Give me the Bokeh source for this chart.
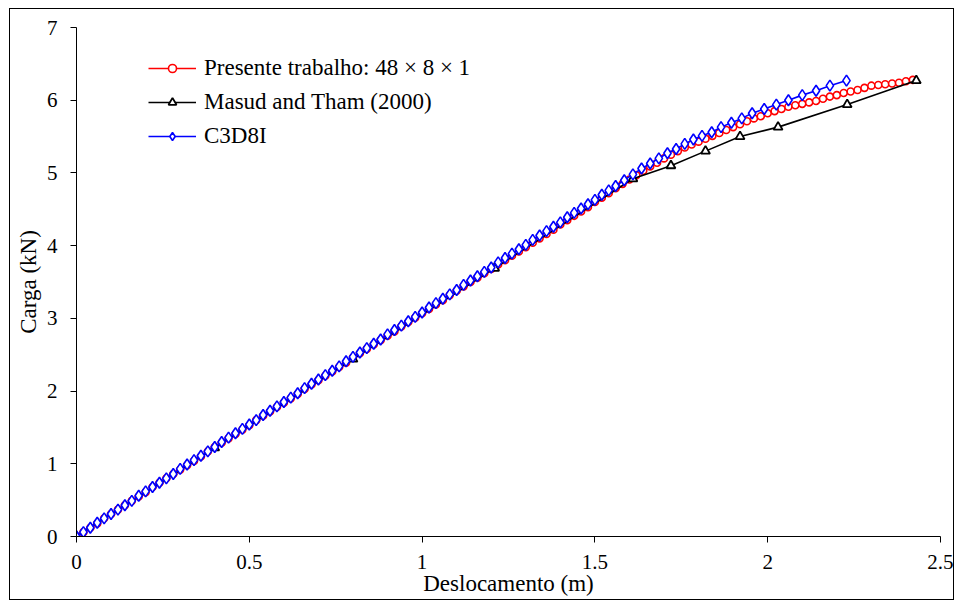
from bokeh.plotting import figure
from bokeh.models import Legend, LegendItem, FixedTicker
from bokeh.embed import file_html
from bokeh.resources import INLINE

# ---- data ----
red_x = [0.00, 0.02, 0.04, 0.06, 0.08, 0.10, 0.12, 0.14, 0.16, 0.18,
         0.20, 0.22, 0.24, 0.26, 0.28, 0.30, 0.32, 0.34, 0.36, 0.38,
         0.40, 0.42, 0.44, 0.46, 0.48, 0.50, 0.52, 0.54, 0.56, 0.58,
         0.60, 0.62, 0.64, 0.66, 0.68, 0.70, 0.72, 0.74, 0.76, 0.78,
         0.80, 0.82, 0.84, 0.86, 0.88, 0.90, 0.92, 0.94, 0.96, 0.98,
         1.00, 1.02, 1.04, 1.06, 1.08, 1.10, 1.12, 1.14, 1.16, 1.18,
         1.20, 1.22, 1.24, 1.26, 1.28, 1.30, 1.32, 1.34, 1.36, 1.38,
         1.40, 1.42, 1.44, 1.46, 1.48, 1.50, 1.52, 1.54, 1.56, 1.58,
         1.60, 1.62, 1.64, 1.66, 1.68, 1.70, 1.72, 1.74, 1.76, 1.78,
         1.80, 1.82, 1.84, 1.86, 1.88, 1.90, 1.92, 1.94, 1.96, 1.98,
         2.00, 2.02, 2.04, 2.06, 2.08, 2.10, 2.12, 2.14, 2.16, 2.18,
         2.20, 2.22, 2.24, 2.26, 2.28, 2.30, 2.32, 2.34, 2.36, 2.38,
         2.40, 2.42]
red_y = [0.00, 0.06, 0.12, 0.18, 0.25, 0.31, 0.37, 0.43, 0.49, 0.55,
         0.61, 0.68, 0.74, 0.80, 0.86, 0.92, 0.98, 1.04, 1.10, 1.17,
         1.23, 1.29, 1.35, 1.41, 1.47, 1.53, 1.60, 1.66, 1.72, 1.78,
         1.84, 1.90, 1.96, 2.03, 2.09, 2.15, 2.21, 2.27, 2.33, 2.39,
         2.46, 2.52, 2.58, 2.64, 2.70, 2.76, 2.82, 2.89, 2.95, 3.01,
         3.07, 3.13, 3.19, 3.25, 3.32, 3.38, 3.44, 3.50, 3.56, 3.62,
         3.68, 3.74, 3.80, 3.86, 3.92, 3.98, 4.04, 4.10, 4.16, 4.22,
         4.29, 4.35, 4.41, 4.47, 4.53, 4.60, 4.66, 4.72, 4.79, 4.85,
         4.91, 4.97, 5.03, 5.09, 5.14, 5.20, 5.25, 5.30, 5.35, 5.39,
         5.43, 5.47, 5.51, 5.55, 5.59, 5.63, 5.67, 5.71, 5.75, 5.78,
         5.82, 5.85, 5.88, 5.91, 5.93, 5.95, 5.97, 5.99, 6.02, 6.05,
         6.07, 6.10, 6.12, 6.14, 6.17, 6.20, 6.21, 6.22, 6.23, 6.24,
         6.26, 6.28]

black_x = [0.00, 0.40, 0.80, 1.21, 1.61, 1.72, 1.82, 1.92, 2.03, 2.23, 2.43]
black_y = [0.00, 1.22, 2.44, 3.69, 4.92, 5.10, 5.30, 5.50, 5.63, 5.94, 6.27]

blue_x = [0.00, 0.02, 0.04, 0.06, 0.08, 0.10, 0.12, 0.14, 0.16, 0.18,
          0.20, 0.22, 0.24, 0.26, 0.28, 0.30, 0.32, 0.34, 0.36, 0.38,
          0.40, 0.42, 0.44, 0.46, 0.48, 0.50, 0.52, 0.54, 0.56, 0.58,
          0.60, 0.62, 0.64, 0.66, 0.68, 0.70, 0.72, 0.74, 0.76, 0.78,
          0.80, 0.82, 0.84, 0.86, 0.88, 0.90, 0.92, 0.94, 0.96, 0.98,
          1.00, 1.02, 1.04, 1.06, 1.08, 1.10, 1.12, 1.14, 1.16, 1.18,
          1.20, 1.22, 1.24, 1.26, 1.28, 1.30, 1.32, 1.34, 1.36, 1.38,
          1.40, 1.42, 1.44, 1.46, 1.48, 1.50, 1.52, 1.54, 1.56, 1.585,
          1.61, 1.635, 1.66, 1.685, 1.71, 1.735, 1.76, 1.785, 1.81, 1.838,
          1.865, 1.895, 1.925, 1.955, 1.99, 2.025, 2.06, 2.10, 2.14, 2.18,
          2.228]
blue_y = [0.00, 0.06, 0.12, 0.19, 0.25, 0.31, 0.37, 0.43, 0.49, 0.56,
          0.62, 0.68, 0.74, 0.80, 0.86, 0.93, 0.99, 1.05, 1.11, 1.17,
          1.23, 1.30, 1.36, 1.42, 1.48, 1.54, 1.60, 1.67, 1.73, 1.79,
          1.85, 1.91, 1.97, 2.04, 2.10, 2.16, 2.22, 2.28, 2.34, 2.41,
          2.47, 2.53, 2.59, 2.65, 2.71, 2.78, 2.84, 2.90, 2.96, 3.02,
          3.08, 3.15, 3.21, 3.27, 3.33, 3.39, 3.46, 3.52, 3.58, 3.64,
          3.70, 3.77, 3.83, 3.89, 3.95, 4.01, 4.08, 4.14, 4.20, 4.26,
          4.32, 4.39, 4.45, 4.51, 4.57, 4.63, 4.70, 4.76, 4.82, 4.90,
          4.98, 5.06, 5.13, 5.20, 5.27, 5.33, 5.40, 5.46, 5.51, 5.56,
          5.63, 5.69, 5.75, 5.82, 5.88, 5.94, 6.00, 6.07, 6.13, 6.20,
          6.27]

x_ticks = [0, 0.5, 1, 1.5, 2, 2.5]
y_ticks = [0, 1, 2, 3, 4, 5, 6, 7]

labels = ["Presente trabalho: 48 \u00d7 8 \u00d7 1", "Masud and Tham (2000)", "C3D8I"]
x_label = "Deslocamento (m)"
y_label = "Carga (kN)"

FONT = "Liberation Serif"

p = figure(width=945, height=592, output_backend="svg", toolbar_location=None,
           x_range=(0, 2.5), y_range=(0, 7),
           min_border_left=66, min_border_right=15, min_border_top=18, min_border_bottom=65)
p.styles = {"border": "1px solid black", "margin-left": "9px", "margin-top": "8px"}
p.outline_line_color = None
p.xgrid.visible = False
p.ygrid.visible = False
p.background_fill_color = "white"
p.border_fill_color = "white"

for ax, ticks, lab in ((p.xaxis[0], x_ticks, x_label), (p.yaxis[0], y_ticks, y_label)):
    ax.ticker = FixedTicker(ticks=ticks)
    ax.minor_tick_line_color = None
    ax.major_tick_in = 0
    ax.major_tick_out = 6
    ax.axis_line_color = "black"
    ax.major_tick_line_color = "black"
    ax.major_label_text_font = FONT
    ax.major_label_text_font_size = "21px"
    ax.major_label_text_color = "black"
    ax.axis_label = lab
    ax.axis_label_text_font = FONT
    ax.axis_label_text_font_size = "23px"
    ax.axis_label_text_font_style = "normal"
    ax.axis_label_text_color = "black"

p.xaxis[0].major_label_standoff = 12
p.xaxis[0].axis_label_standoff = -1
p.yaxis[0].major_label_standoff = 13
p.yaxis[0].axis_label_standoff = 3

lr = p.line(red_x, red_y, line_color="red", line_width=1.6)
sr = p.scatter(red_x, red_y, marker="circle", size=7, line_color="red", line_width=1.6, fill_color="white")
lb = p.line(black_x, black_y, line_color="black", line_width=1.6)
sb = p.scatter(black_x, black_y, marker="triangle", size=9, line_color="black", line_width=1.8, fill_color="white")
lu = p.line(blue_x, blue_y, line_color="blue", line_width=1.6)
su = p.scatter(blue_x, blue_y, marker="diamond", size=11, line_color="blue", line_width=1.6, fill_color="white")

legend = Legend(items=[LegendItem(label=labels[0], renderers=[lr, sr]),
                       LegendItem(label=labels[1], renderers=[lb, sb]),
                       LegendItem(label=labels[2], renderers=[lu, su])],
                location=(72, 383))
legend.border_line_color = None
legend.background_fill_alpha = 0
legend.margin = 0
legend.padding = 0
legend.spacing = 0
legend.glyph_width = 48
legend.glyph_height = 20
legend.label_height = 34
legend.label_standoff = 8
legend.label_text_font = FONT
legend.label_text_font_size = "23px"
legend.label_text_color = "black"
p.add_layout(legend, "center")

open("out.html", "w").write(file_html(p, INLINE))
